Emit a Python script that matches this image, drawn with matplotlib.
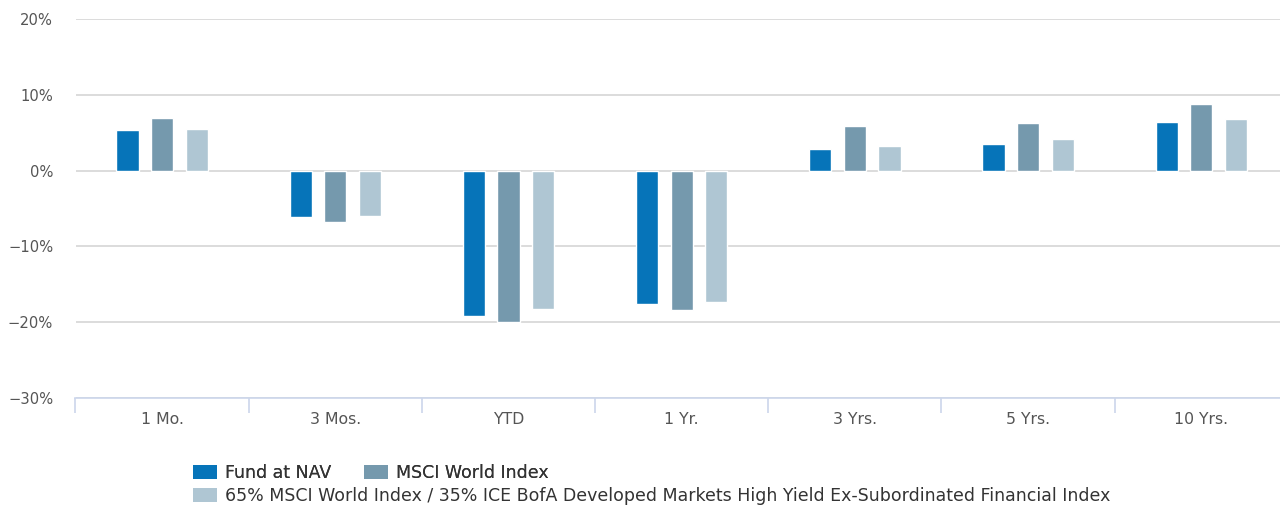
import numpy as np
import matplotlib
matplotlib.use("Agg")
import matplotlib.pyplot as plt
from matplotlib.patches import Patch

plt.rcParams["font.family"] = ["DejaVu Sans"]

categorias = ["1 Mo.", "3 Mos.", "YTD", "1 Yr.", "3 Yrs.", "5 Yrs.", "10 Yrs."]
fondo = [5.4, -6.1, -19.2, -17.6, 2.8, 3.5, 6.4]
msci = [6.95, -6.8, -20.0, -18.45, 5.9, 6.3, 8.8]
mezcla = [5.55, -5.95, -18.3, -17.3, 3.3, 4.2, 6.75]
nombres = ["Fund at NAV", "MSCI World Index",
           "65% MSCI World Index / 35% ICE BofA Developed Markets High Yield Ex-Subordinated Financial Index"]
colores = ["#0674b9", "#7599ad", "#afc6d3"]
yticks = [-30, -20, -10, 0, 10, 20]

W, H = 1280, 508
fig = plt.figure(figsize=(W/100, H/100), dpi=100)
# el area del grafico se sale un poco por la derecha
ax = fig.add_axes([75.5/W, 1-398/H, 7*173.2/W, (398-19)/H])

x = np.arange(len(categorias))
ancho = 0.128
desp = 0.2
series = [fondo, msci, mezcla]
for i, s in enumerate(series):
    ax.bar(x + (i-1)*desp, s, ancho, color=colores[i], edgecolor="white",
           linewidth=1, zorder=3)

ax.set_xlim(-0.5, len(categorias)-0.5)
ax.set_ylim(-30, 20)
ax.set_yticks(yticks)
ax.set_yticklabels([("\u2212%d%%" % -v) if v < 0 else "%d%%" % v for v in yticks])
ax.yaxis.grid(True, color="#d6d6d6", linewidth=1.2, zorder=0)
ax.set_axisbelow(True)

for lado in ["top", "right", "left"]:
    ax.spines[lado].set_visible(False)
ax.spines["bottom"].set_color("#ccd6eb")
ax.spines["bottom"].set_linewidth(1.2)
ax.spines["bottom"].set_zorder(4)

ax.set_xticks(x)
ax.set_xticklabels(categorias)
ax.set_xticks(np.arange(len(categorias)+1) - 0.5, minor=True)
ax.tick_params(axis="x", which="major", length=0, pad=10, labelsize=11.3, labelcolor="#555555")
ax.tick_params(axis="x", which="minor", length=11, width=1.2, color="#ccd6eb")
ax.tick_params(axis="y", length=0, pad=16, labelsize=10.6, labelcolor="#555555")

fs = 12.5
px = fs*100/72
kw = dict(frameon=False, fontsize=fs, handlelength=24/px, handleheight=15/px,
          handletextpad=8/px, columnspacing=33/px, borderpad=0, borderaxespad=0,
          labelcolor="#333333")
h1 = [Patch(facecolor=colores[0]), Patch(facecolor=colores[1])]
leg1 = fig.legend(h1, nombres[:2], loc="center left", ncol=2,
                  bbox_to_anchor=(193/W, 1-473/H), **kw)
fig.add_artist(leg1)
leg2 = fig.legend([Patch(facecolor=colores[2])], nombres[2:], loc="center left",
                  bbox_to_anchor=(193/W, 1-496/H), **kw)

fig.savefig("out.png", dpi=100)
